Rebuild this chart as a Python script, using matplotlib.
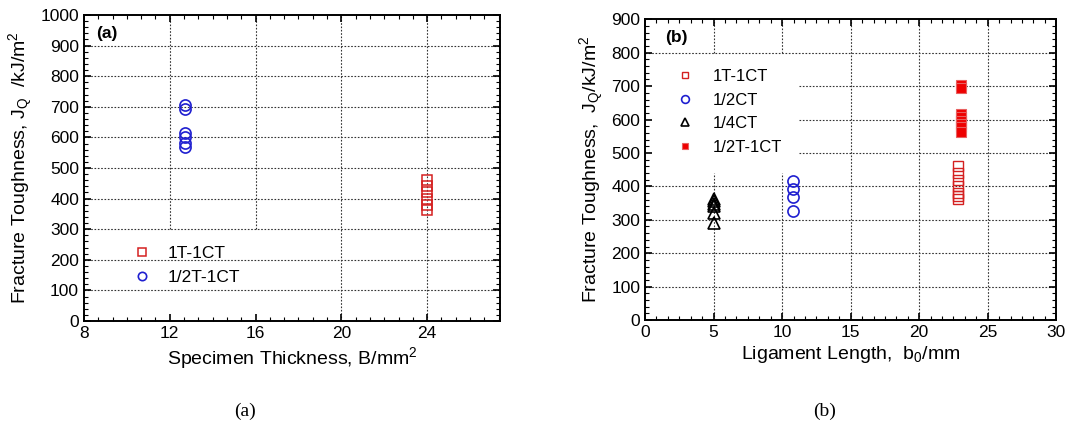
import numpy as np
import matplotlib.pyplot as plt
from matplotlib.ticker import MultipleLocator

plt.rcParams['font.family'] = ['Liberation Sans', 'DejaVu Sans']
plt.rcParams['mathtext.fontset'] = 'custom'
plt.rcParams['mathtext.rm'] = 'Liberation Sans'
plt.rcParams['mathtext.it'] = 'Liberation Sans'

# panel (a): toughness vs specimen thickness
a_1t_x = [24.0] * 6
a_1t_y = [460, 440, 420, 400, 380, 362]
a_half_x = [12.7] * 6
a_half_y = [705, 693, 615, 600, 583, 568]

# panel (b): toughness vs ligament length
b_1t_x = [22.85] * 7
b_1t_y = [460, 440, 420, 400, 380, 370, 362]
b_halfct_x = [10.8] * 4
b_halfct_y = [417, 391, 367, 326]
b_quarter_x = [5.0] * 6
b_quarter_y = [362, 355, 348, 340, 320, 290]
b_halfT_x = [23.05] * 8
b_halfT_y = [702, 695, 618, 607, 597, 587, 577, 562]

red = '#d42020'
blue = '#1f1fd0'

fig = plt.figure(figsize=(10.67, 4.25), dpi=100)
ax1 = fig.add_axes([0.0787, 0.2447, 0.390, 0.720])
ax2 = fig.add_axes([0.6045, 0.247, 0.3855, 0.7075])

gkw = dict(color='#333333', lw=0.8, ls=(0, (1.5, 1.5)), zorder=0)


def style(ax):
    for s in ax.spines.values():
        s.set_linewidth(1.4)
    ax.tick_params(which='both', direction='in', top=True, right=True, labelsize=12.5)
    ax.tick_params(which='major', length=5, width=1.2)
    ax.tick_params(which='minor', length=3, width=0.8)


# ---- (a)
ax1.set_xlim(8, 27.4)
ax1.set_ylim(0, 1000)
ax1.xaxis.set_major_locator(MultipleLocator(4))
ax1.xaxis.set_minor_locator(MultipleLocator(4 / 6))
ax1.yaxis.set_major_locator(MultipleLocator(100))
ax1.yaxis.set_minor_locator(MultipleLocator(20))
style(ax1)
for yv in range(100, 1000, 100):
    ax1.axhline(yv, **gkw)
for xv in [12, 16]:
    ax1.axvline(xv, ymin=0.3, **gkw)
for xv in [20, 24]:
    ax1.axvline(xv, **gkw)

ax1.plot(a_1t_x, a_1t_y, 's', ms=7, mfc='none', mec=red, mew=1.1, label='1T-1CT')
ax1.plot(a_half_x, a_half_y, 'o', ms=8, mfc='none', mec=blue, mew=1.2, label='1/2T-1CT')
ax1.text(0.03, 0.965, '(a)', transform=ax1.transAxes, fontsize=12.5, fontweight='bold', va='top')
ax1.legend(loc='lower left', bbox_to_anchor=(0.06, 0.065), frameon=False, fontsize=12.5,
           markerscale=0.75, handletextpad=0.5, labelspacing=0.55)
ax1.set_xlabel('Specimen Thickness, B/mm$^2$', fontsize=14, labelpad=3)
ax1.set_ylabel('Fracture Toughness, J$_Q$  /kJ/m$^2$', fontsize=14, labelpad=4)

# ---- (b)
ax2.set_xlim(0, 30)
ax2.set_ylim(0, 900)
ax2.xaxis.set_major_locator(MultipleLocator(5))
ax2.xaxis.set_minor_locator(MultipleLocator(5 / 6))
ax2.yaxis.set_major_locator(MultipleLocator(100))
ax2.yaxis.set_minor_locator(MultipleLocator(20))
style(ax2)
for yv in [100, 200, 300, 400, 800]:
    ax2.axhline(yv, **gkw)
for yv in [500, 600, 700]:
    ax2.axhline(yv, xmin=11.2 / 30, **gkw)
for xv in [5, 10]:
    ax2.axvline(xv, ymax=440 / 900, **gkw)
    ax2.axvline(xv, ymin=800 / 900, **gkw)
for xv in [15, 20, 25]:
    ax2.axvline(xv, **gkw)

ax2.plot(b_1t_x, b_1t_y, 's', ms=7, mfc='none', mec=red, mew=1.0, label='1T-1CT')
ax2.plot(b_halfct_x, b_halfct_y, 'o', ms=8, mfc='none', mec=blue, mew=1.2, label='1/2CT')
ax2.plot(b_quarter_x, b_quarter_y, '^', ms=9, mfc='none', mec='black', mew=1.2, label='1/4CT')
ax2.plot(b_halfT_x, b_halfT_y, 's', ms=6.5, mfc='#ee0000', mec='#e86060', mew=0.8, label='1/2T-1CT')
ax2.text(0.05, 0.965, '(b)', transform=ax2.transAxes, fontsize=12.5, fontweight='bold', va='top')
ax2.legend(loc='upper left', bbox_to_anchor=(0.02, 0.885), frameon=False, fontsize=12,
           markerscale=0.7, handletextpad=0.7, labelspacing=0.52)
ax2.set_xlabel('Ligament Length,  b$_0$/mm', fontsize=14, labelpad=3)
ax2.set_ylabel('Fracture Toughness,  J$_Q$/kJ/m$^2$', fontsize=14, labelpad=4)

fig.text(0.23, 0.022, '(a)', fontsize=14, family='Liberation Serif', ha='center')
fig.text(0.773, 0.022, '(b)', fontsize=14, family='Liberation Serif', ha='center')

fig.savefig('out.png', dpi=100)
